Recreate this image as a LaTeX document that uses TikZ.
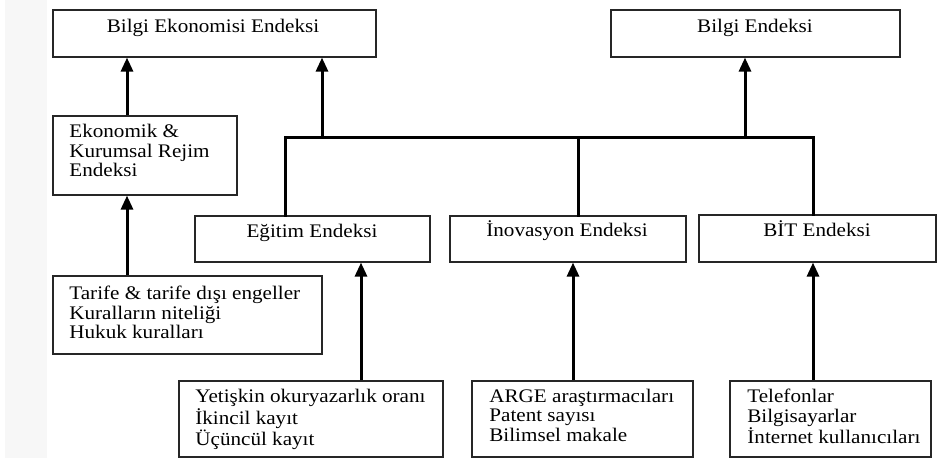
\documentclass[tikz,border=0pt]{standalone}
\usepackage{fontspec}
\setmainfont{Liberation Serif}[FakeStretch=1.1]
\usetikzlibrary{arrows.meta,fit}
\begin{document}
\begin{tikzpicture}[x=0.5pt,y=-0.5pt,
  box/.style={draw=black!85, line width=0.6pt, inner sep=0pt},
  conn/.style={line width=1.5pt, line join=miter, line cap=rect},
  arr/.style={line width=1.5pt, -{Triangle[length=7pt,width=6pt]}},
  txt/.style={inner sep=0pt, font=\fontsize{9.6}{9.5}\selectfont},
  lines/.style={txt, anchor=base west}
]
\useasboundingbox (0,0) rectangle (937,458);
\fill[black!3] (5,0) rectangle (47,458);

% boxes
\node[box, fit={(53,10) (376,57)}] (bek) {};
\node[box, fit={(611,10) (900,57)}] (bil) {};
\node[box, fit={(53,116) (237,195)}] (ekon) {};
\node[box, fit={(53,276) (322,354)}] (tar) {};
\node[box, fit={(195,216) (430,262)}] (egt) {};
\node[box, fit={(450,216) (686,262)}] (ino) {};
\node[box, fit={(699,215) (936,262)}] (bit) {};
\node[box, fit={(179,381) (443,457)}] (yet) {};
\node[box, fit={(472,381) (693,457)}] (arg) {};
\node[box, fit={(730,381) (931,457)}] (tel) {};

% texts
\node[txt, anchor=base] (bekt) at (213,33) {Bilgi Ekonomisi Endeksi};
\node[txt, anchor=base] (bilt) at (755,33) {Bilgi Endeksi};
\node[txt, anchor=base] (egtt) at (312,238) {Eğitim Endeksi};
\node[txt, anchor=base] (inot) at (567,237) {İnovasyon Endeksi};
\node[txt, anchor=base] (bitt) at (817,237) {BİT Endeksi};
\node[lines] (ekont) at (69,138) {\begin{tabular}[t]{@{}l@{}}Ekonomik \&\\Kurumsal Rejim\\Endeksi\end{tabular}};
\node[lines] (tart) at (69,300) {\begin{tabular}[t]{@{}l@{}}Tarife \& tarife dışı engeller\\Kuralların niteliği\\Hukuk kuralları\end{tabular}};
\node[lines] (yett) at (195,403) {\begin{tabular}[t]{@{}l@{}}Yetişkin okuryazarlık oranı\\İkincil kayıt\\Üçüncül kayıt\end{tabular}};
\node[lines] (argt) at (489,403) {\begin{tabular}[t]{@{}l@{}}ARGE araştırmacıları\\Patent sayısı\\Bilimsel makale\end{tabular}};
\node[lines] (telt) at (747,403) {\begin{tabular}[t]{@{}l@{}}Telefonlar\\Bilgisayarlar\\İnternet kullanıcıları\end{tabular}};

% connector columns
\coordinate (xa) at (127,0);
\coordinate (xb) at (322,0);
\coordinate (xc) at (745,0);
\coordinate (xd) at (361,0);
\coordinate (xe) at (573,0);
\coordinate (xf) at (813,0);
\coordinate (xg) at (578,0);
\coordinate (hubL) at (285,138);
\coordinate (hubR) at (813,138);

% hub
\draw[conn] (egt.north -| hubL) -- (hubL) -- (hubR) -- (bit.north -| hubR);
\draw[conn] (hubL -| xg) -- (ino.north -| xg);

% arrows
\draw[arr] (tar.north -| xa) -- (ekon.south -| xa);
\draw[arr] (ekon.north -| xa) -- (bek.south -| xa);
\draw[arr] (hubL -| xb) -- (bek.south -| xb);
\draw[arr] (hubL -| xc) -- (bil.south -| xc);
\draw[arr] (yet.north -| xd) -- (egt.south -| xd);
\draw[arr] (arg.north -| xe) -- (ino.south -| xe);
\draw[arr] (tel.north -| xf) -- (bit.south -| xf);
\end{tikzpicture}
\end{document}
